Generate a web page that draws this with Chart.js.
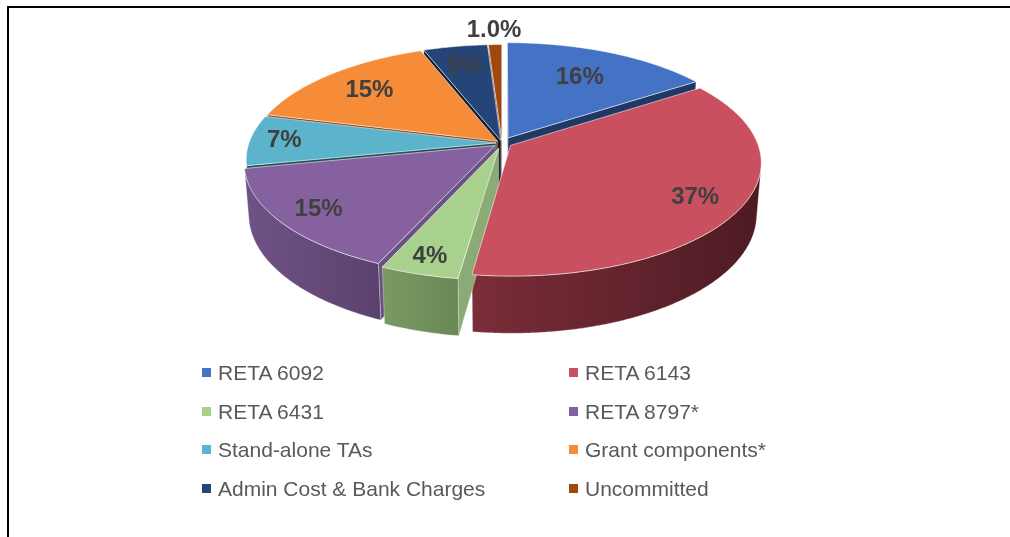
<!DOCTYPE html>
<html>
<head>
<meta charset="utf-8">
<script src="https://cdn.jsdelivr.net/npm/chart.js@4.4.1/dist/chart.umd.min.js"></script>
<style>
  html, body { margin: 0; padding: 0; background: #fff; }
  #wrap { position: relative; width: 1010px; height: 537px; overflow: hidden; font-family: "Liberation Sans", Arial, sans-serif; }
  #frame { position: absolute; left: 7px; top: 6px; width: 1020px; height: 560px; border-top: 2px solid #000; border-left: 2px solid #000; }
  #chart { position: absolute; left: 0; top: 0; }
  .leg { position: absolute; font-size: 21px; line-height: 24px; color: #595959; white-space: nowrap; }
  .leg i { position: absolute; left: -16px; top: 7px; width: 9px; height: 9px; }
</style>
</head>
<body>
<div id="wrap">
  <div id="frame"></div>
  <canvas id="chart" width="1010" height="537"></canvas>
  <div id="legend"></div>
</div>
<script>
// Funding shares by component (labels as printed on the chart)
const categories = ['RETA 6092', 'RETA 6143', 'RETA 6431', 'RETA 8797*', 'Stand-alone TAs',
  'Grant components*', 'Admin Cost & Bank Charges', 'Uncommitted'];
const shares = [15.6, 36.6, 4.4, 15.2, 7.2, 15.2, 4.8, 1.0];
const shareLabels = ['16%', '37%', '4%', '15%', '7%', '15%', '5%', '1.0%'];

// styling
const topColors = ['#4472C4', '#C9505F', '#A9D18E', '#8561A0', '#5BB3CC', '#F68B38', '#254478', '#9E480E'];
const wallLight = ['#2f5597', '#7b2d39', '#7a9b63', '#6f5287', '#2e6a7a', '#8c4a18', '#14274b', '#6b300a'];
const wallDark = ['#22407a', '#4d1b23', '#6a8755', '#5b426e', '#1f4e5a', '#6d3810', '#0c1a33', '#4f2207'];
const faceColors = ['#1f3864', '#6e2832', '#8aab74', '#6c5282', '#1f4e5a', '#7a3f12', '#0c1a33', '#5a2808'];
const explode = [13, 10, 12, 9, 6, 6, 6, 6];
const labelRadius = [0.68, 0.82, 0.88, 0.84, 0.86, 0.75, 0.77, 1.18];

// 3D view: tilt, camera distance and pie thickness
const VIEW = { sinT: 0.448, cosT: 0.894, dist: 1497, depth: 58 };

function project(cx, cy, u, w, h) {
  const z = w * VIEW.cosT + h * VIEW.sinT;
  const s = VIEW.dist / (VIEW.dist - z);
  return [cx + u * s, cy + (w * VIEW.sinT - h * VIEW.cosT) * s];
}

function fillPoly(ctx, pts, fill, stroke) {
  ctx.beginPath();
  pts.forEach((p, k) => k ? ctx.lineTo(p[0], p[1]) : ctx.moveTo(p[0], p[1]));
  ctx.closePath();
  ctx.fillStyle = fill;
  ctx.fill();
  if (stroke) {
    ctx.strokeStyle = stroke;
    ctx.lineWidth = 1;
    ctx.stroke();
  }
}

// Draws the pie arcs computed by Chart.js as a tilted 3D pie
const pie3d = {
  id: 'pie3d',
  beforeDatasetsDraw(chart) {
    const ctx = chart.ctx;
    const meta = chart.getDatasetMeta(0);
    const H = VIEW.depth;
    const camW = VIEW.dist * VIEW.cosT;

    const slices = meta.data.map((arc, i) => {
      const p = arc.getProps(['x', 'y', 'startAngle', 'endAngle', 'outerRadius'], true);
      const off = arc.options.offset || 0;
      const mid = (p.startAngle + p.endAngle) / 2;
      const n = Math.max(2, Math.ceil((p.endAngle - p.startAngle) / (Math.PI / 360)));
      const angles = [];
      for (let k = 0; k <= n; k++) angles.push(p.startAngle + (p.endAngle - p.startAngle) * k / n);
      return { i, cx: p.x, cy: p.y, a0: p.startAngle, a1: p.endAngle, r: p.outerRadius,
        du: off * Math.cos(mid), dw: off * Math.sin(mid), mid, angles };
    });

    const pt = (s, a, rr, h) => project(s.cx, s.cy, s.du + rr * Math.cos(a), s.dw + rr * Math.sin(a), h);

    // side faces, back to front
    const order = slices.slice().sort((a, b) => Math.sin(a.mid) - Math.sin(b.mid));
    order.forEach(s => {
      const tipTop = project(s.cx, s.cy, s.du, s.dw, 0);
      const tipBot = project(s.cx, s.cy, s.du, s.dw, -H);
      // radial faces
      const vis0 = (-s.du) * Math.sin(s.a0) + (camW - s.dw) * (-Math.cos(s.a0)) > 0;
      const vis1 = (-s.du) * (-Math.sin(s.a1)) + (camW - s.dw) * Math.cos(s.a1) > 0;
      [[s.a0, vis0], [s.a1, vis1]].forEach(([a, vis]) => {
        if (!vis) return;
        fillPoly(ctx, [tipTop, pt(s, a, s.r, 0), pt(s, a, s.r, -H), tipBot],
          faceColors[s.i], 'rgba(255,255,255,0.25)');
      });
      // outer wall, only the part facing the camera
      const runs = [];
      let cur = null;
      s.angles.forEach(a => {
        const pu = s.du + s.r * Math.cos(a), pw = s.dw + s.r * Math.sin(a);
        const vis = (-pu) * Math.cos(a) + (camW - pw) * Math.sin(a) > 0;
        if (vis) { if (!cur) { cur = []; runs.push(cur); } cur.push(a); } else cur = null;
      });
      runs.forEach(run => {
        if (run.length < 2) return;
        const topPts = run.map(a => pt(s, a, s.r, 0));
        const botPts = run.map(a => pt(s, a, s.r, -H)).reverse();
        const xs = topPts.map(p => p[0]);
        const x0 = Math.min(...xs), x1 = Math.max(...xs);
        const grad = ctx.createLinearGradient(x0, 0, Math.max(x1, x0 + 1), 0);
        grad.addColorStop(0, wallLight[s.i]);
        grad.addColorStop(1, wallDark[s.i]);
        fillPoly(ctx, topPts.concat(botPts), grad, 'rgba(255,255,255,0.3)');
      });
    });

    // top faces
    slices.forEach(s => {
      const pts = [project(s.cx, s.cy, s.du, s.dw, 0)].concat(s.angles.map(a => pt(s, a, s.r, 0)));
      fillPoly(ctx, pts, topColors[s.i], 'rgba(255,255,255,0.55)');
    });

    // data labels
    ctx.save();
    ctx.font = 'bold 24px "Liberation Sans", Arial, sans-serif';
    ctx.fillStyle = '#404040';
    ctx.textAlign = 'center';
    ctx.textBaseline = 'middle';
    slices.forEach(s => {
      const p = pt(s, s.mid, labelRadius[s.i] * s.r, 0);
      ctx.fillText(shareLabels[s.i], p[0], p[1]);
    });
    ctx.restore();
    return false;
  }
};

new Chart(document.getElementById('chart'), {
  type: 'pie',
  data: {
    labels: categories,
    datasets: [{
      data: shares,
      backgroundColor: topColors,
      offset: explode,
      borderWidth: 0
    }]
  },
  options: {
    responsive: false,
    animation: false,
    events: [],
    radius: 247,
    layout: { padding: { left: 0, right: 6, top: 0, bottom: 251 } },
    plugins: {
      legend: { display: false },
      tooltip: { enabled: false }
    }
  },
  plugins: [pie3d]
});

// two-column legend under the pie
const legendCols = [218, 585];
const legendRows = [373, 412, 450, 489];
const legend = document.getElementById('legend');
categories.forEach((name, i) => {
  const item = document.createElement('div');
  item.className = 'leg';
  item.style.left = legendCols[i % 2] + 'px';
  item.style.top = (legendRows[Math.floor(i / 2)] - 12) + 'px';
  const box = document.createElement('i');
  box.style.background = topColors[i];
  item.appendChild(box);
  item.appendChild(document.createTextNode(name));
  legend.appendChild(item);
});
</script>
</body>
</html>
